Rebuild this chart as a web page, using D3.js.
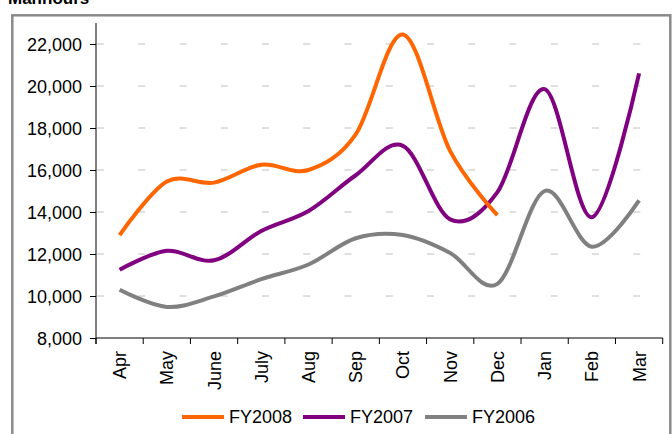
<!DOCTYPE html>
<html>
<head>
<meta charset="utf-8">
<script src="https://cdn.jsdelivr.net/npm/d3@7"></script>
<style>
  html, body { margin: 0; padding: 0; background: #fff; }
  svg { display: block; font-family: Arial, "Liberation Sans", sans-serif; }
</style>
</head>
<body>
<svg id="chart" width="672" height="434"></svg>
<script>
// Monthly figures per financial year (Apr..Mar)
const months = ["Apr", "May", "June", "July", "Aug", "Sep", "Oct", "Nov", "Dec", "Jan", "Feb", "Mar"];
const fy2008 = [12900, 15450, 15400, 16250, 16000, 17700, 22450, 16900, 13850];
const fy2007 = [11250, 12150, 11700, 13100, 14050, 15750, 17150, 13650, 14950, 19850, 13750, 20600];
const fy2006 = [10300, 9480, 9980, 10800, 11500, 12750, 12900, 12050, 10580, 15000, 12350, 14550];
const yTicks = [8000, 10000, 12000, 14000, 16000, 18000, 20000, 22000];
const seriesNames = ["FY2008", "FY2007", "FY2006"];
const seriesColors = ["#ff6600", "#800080", "#808080"];
const seriesValues = [fy2008, fy2007, fy2006];

const svg = d3.select("#chart");

// Outer chart frame
svg.append("rect")
  .attr("x", 12.3).attr("y", 15.3)
  .attr("width", 658).attr("height", 440)
  .attr("fill", "none").attr("stroke", "#8a8a8a").attr("stroke-width", 2.5);

// Heading (sits at the very top edge)
svg.append("text")
  .attr("x", 8).attr("y", 4)
  .attr("font-size", 17).attr("font-weight", "bold")
  .attr("fill", "#000")
  .text("Manhours");

const x = d3.scaleBand().domain(months).range([96, 662.7]);
const y = d3.scaleLinear().domain([8000, 23000]).range([338, 23]);

// Dashed horizontal gridlines
svg.append("g").selectAll("line")
  .data(yTicks.filter(t => t > 8000))
  .join("line")
  .attr("x1", 97).attr("x2", 662)
  .attr("y1", d => y(d)).attr("y2", d => y(d))
  .attr("stroke", "#c0c0c0").attr("stroke-width", 1)
  .attr("stroke-dasharray", "7 34.25");

// Y axis
const yAxis = d3.axisLeft(y)
  .tickValues(yTicks)
  .tickSize(6)
  .tickFormat(d3.format(","));
const gy = svg.append("g").attr("transform", "translate(96,0)").call(yAxis);
gy.select(".domain").attr("d", "M0,23V344").attr("stroke", "#000");
gy.selectAll(".tick line").attr("stroke", "#000");
gy.selectAll(".tick text")
  .attr("x", -14).attr("dy", "0.36em")
  .attr("font-size", 18).attr("font-family", "Arial, 'Liberation Sans', sans-serif")
  .attr("fill", "#000");

// X axis: ticks on category boundaries
const gx = svg.append("g").attr("transform", "translate(0,338)");
gx.append("line")
  .attr("x1", 96).attr("x2", 662.7).attr("y1", 0).attr("y2", 0)
  .attr("stroke", "#000");
gx.selectAll("line.tk")
  .data(months.concat(["end"]))
  .join("line")
  .attr("class", "tk")
  .attr("x1", (d, i) => 96 + i * x.step()).attr("x2", (d, i) => 96 + i * x.step())
  .attr("y1", 0).attr("y2", 6)
  .attr("stroke", "#000");
gx.selectAll("text")
  .data(months)
  .join("text")
  .attr("transform", d => `translate(${x(d) + x.bandwidth() / 2},13) rotate(-90)`)
  .attr("text-anchor", "end")
  .attr("dy", "0.36em")
  .attr("font-size", 18)
  .attr("fill", "#000")
  .text(d => d);

// Smoothed series lines
const line = d3.line()
  .x((d, i) => x(months[i]) + x.bandwidth() / 2)
  .y(d => y(d))
  .curve(d3.curveCardinal.tension(0));

svg.append("g").selectAll("path")
  .data(seriesValues.slice().reverse())
  .join("path")
  .attr("d", d => line(d))
  .attr("fill", "none")
  .attr("stroke", (d, i) => seriesColors.slice().reverse()[i])
  .attr("stroke-width", 4)
  .attr("stroke-linejoin", "round");

// Legend
const legendX = [182, 303, 425];
const lg = svg.append("g");
seriesNames.forEach((name, i) => {
  lg.append("line")
    .attr("x1", legendX[i]).attr("x2", legendX[i] + 42)
    .attr("y1", 417).attr("y2", 417)
    .attr("stroke", seriesColors[i]).attr("stroke-width", 4);
  lg.append("text")
    .attr("x", legendX[i] + 47).attr("y", 417).attr("dy", "0.36em")
    .attr("font-size", 18).attr("fill", "#000")
    .text(name);
});
</script>
</body>
</html>
